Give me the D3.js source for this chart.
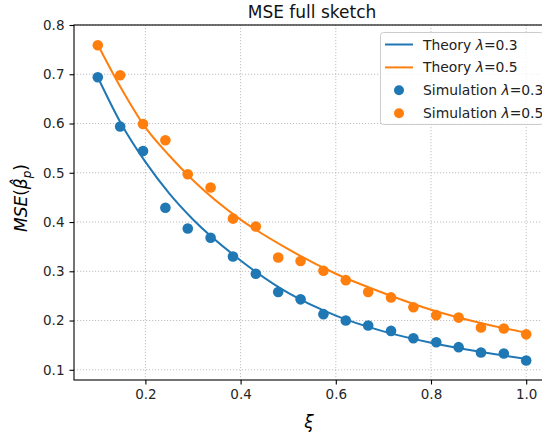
<!doctype html>
<html>
  <head>
    <script src="https://cdnjs.cloudflare.com/ajax/libs/d3/7.8.5/d3.min.js"></script>
    <style>
      body { margin: 0; background: #fff; }
      svg { font-family: "DejaVu Sans", sans-serif; }
      .grid line { stroke: #b0b0b0; stroke-width: 0.8; stroke-dasharray: 1.2 1.8; }
      .axis path, .axis line { stroke: #000; stroke-width: 1.1; }
      path.theory { fill: none; stroke-width: 2; }
    </style>
  </head>
  <body>
    <svg id="chart" width="542" height="435"></svg>
    <script>
      // simulation points
      var simXi = [0.1, 0.147, 0.195, 0.242, 0.289, 0.337, 0.384, 0.432, 0.479, 0.526,
                   0.574, 0.621, 0.668, 0.716, 0.763, 0.811, 0.858, 0.905, 0.953, 1.0];
      var simLam03 = [0.694, 0.594, 0.544, 0.429, 0.387, 0.368, 0.330, 0.295, 0.258, 0.243,
                      0.213, 0.200, 0.190, 0.179, 0.164, 0.156, 0.146, 0.135, 0.133, 0.119];
      var simLam05 = [0.759, 0.698, 0.599, 0.566, 0.497, 0.470, 0.407, 0.391, 0.328, 0.321,
                      0.301, 0.282, 0.258, 0.247, 0.227, 0.211, 0.206, 0.186, 0.184, 0.172];

      // theory curves
      var theoryXi = [0.1, 0.15, 0.2, 0.25, 0.3, 0.4, 0.5, 0.6, 0.7, 0.8, 0.9, 1.0];
      var theoryLam03 = [0.694, 0.598, 0.522, 0.458, 0.405, 0.322, 0.256, 0.210, 0.178, 0.155, 0.137, 0.122];
      var theoryLam05 = [0.760, 0.670, 0.592, 0.535, 0.485, 0.405, 0.345, 0.295, 0.256, 0.222, 0.196, 0.175];

      var xTicks = [0.2, 0.4, 0.6, 0.8, 1.0];
      var yTicks = [0.1, 0.2, 0.3, 0.4, 0.5, 0.6, 0.7, 0.8];

      var blue = "#1f77b4", orange = "#ff7f0e";

      var plotL = 74, plotR = 550, plotT = 25, plotB = 380;
      var svg = d3.select("#chart");

      var x = d3.scaleLinear().domain([0.05, 1.05]).range([plotL, plotR]);
      var y = d3.scaleLinear().domain([0.0793, 0.8]).range([plotB, plotT]);

      // grid
      var grid = svg.append("g").attr("class", "grid");
      grid.selectAll("line.gx").data(xTicks).enter().append("line")
          .attr("x1", d => x(d)).attr("x2", d => x(d))
          .attr("y1", plotT).attr("y2", plotB);
      grid.selectAll("line.gy").data(yTicks).enter().append("line")
          .attr("x1", plotL).attr("x2", plotR)
          .attr("y1", d => y(d)).attr("y2", d => y(d));

      var line = d3.line()
          .x(d => x(d[0]))
          .y(d => y(d[1]))
          .curve(d3.curveMonotoneX);

      svg.append("path")
          .datum(d3.zip(theoryXi, theoryLam03))
          .attr("class", "theory")
          .attr("stroke", blue)
          .attr("d", line);
      svg.append("path")
          .datum(d3.zip(theoryXi, theoryLam05))
          .attr("class", "theory")
          .attr("stroke", orange)
          .attr("d", line);

      svg.append("g").selectAll("circle")
        .data(d3.zip(simXi, simLam03))
        .enter().append("circle")
          .attr("cx", d => x(d[0]))
          .attr("cy", d => y(d[1]))
          .attr("r", 5.3)
          .attr("fill", blue);
      svg.append("g").selectAll("circle")
        .data(d3.zip(simXi, simLam05))
        .enter().append("circle")
          .attr("cx", d => x(d[0]))
          .attr("cy", d => y(d[1]))
          .attr("r", 5.3)
          .attr("fill", orange);

      // axes
      var gx = svg.append("g")
          .attr("class", "axis")
          .attr("transform", "translate(0," + plotB + ")")
          .call(d3.axisBottom(x).tickValues(xTicks).tickFormat(d3.format(".1f"))
                .tickSizeInner(4.5).tickSizeOuter(0).tickPadding(5));
      var gy = svg.append("g")
          .attr("class", "axis")
          .attr("transform", "translate(" + plotL + ",0)")
          .call(d3.axisLeft(y).tickValues(yTicks).tickFormat(d3.format(".1f"))
                .tickSizeInner(4.5).tickSizeOuter(0).tickPadding(5));
      svg.selectAll(".axis")
          .attr("font-family", "DejaVu Sans, sans-serif")
          .attr("font-size", 13.5);
      svg.selectAll(".axis text").attr("fill", "#262626");
      svg.selectAll(".axis .domain").remove();
      // frame
      svg.append("rect")
          .attr("x", plotL).attr("y", plotT)
          .attr("width", plotR - plotL).attr("height", plotB - plotT)
          .attr("fill", "none").attr("stroke", "#000").attr("stroke-width", 1.1);

      // title and labels
      svg.append("text")
          .attr("x", (plotL + plotR) / 2).attr("y", 18)
          .attr("text-anchor", "middle")
          .attr("font-size", "17px")
          .attr("fill", "#111")
          .text("MSE full sketch");

      svg.append("text")
          .attr("x", 309).attr("y", 428)
          .attr("text-anchor", "middle")
          .attr("font-size", "17px")
          .attr("font-style", "italic")
          .text("ξ");

      var yl = svg.append("text")
          .attr("transform", "translate(27,198) rotate(-90)")
          .attr("text-anchor", "middle")
          .attr("font-size", "17px");
      yl.append("tspan").attr("font-style", "italic").text("MSE");
      yl.append("tspan").text("(");
      yl.append("tspan").attr("font-style", "italic").text("β\u0302");
      yl.append("tspan").attr("font-style", "italic").attr("font-size", "12px")
          .attr("dy", 4).text("p");
      yl.append("tspan").attr("dy", -4).text(")");

      // legend
      var legendItems = [
        {kind: "line", color: blue, label: "Theory ", lam: "0.3"},
        {kind: "line", color: orange, label: "Theory ", lam: "0.5"},
        {kind: "dot", color: blue, label: "Simulation ", lam: "0.3"},
        {kind: "dot", color: orange, label: "Simulation ", lam: "0.5"}
      ];
      var lg = svg.append("g");
      lg.append("rect")
          .attr("x", 380.5).attr("y", 32.5)
          .attr("width", 163).attr("height", 92)
          .attr("rx", 3)
          .attr("fill", "#fff").attr("fill-opacity", 0.8)
          .attr("stroke", "#cccccc");
      var rows = lg.selectAll("g.row").data(legendItems).enter().append("g")
          .attr("transform", (d, i) => "translate(0," + (44.5 + i * 22.9) + ")");
      rows.filter(d => d.kind === "line").append("line")
          .attr("x1", 385).attr("x2", 413)
          .attr("stroke", d => d.color).attr("stroke-width", 2);
      rows.filter(d => d.kind === "dot").append("circle")
          .attr("cx", 399).attr("r", 5)
          .attr("fill", d => d.color);
      var lt = rows.append("text")
          .attr("x", 423).attr("y", 5)
          .attr("font-size", "13.9px")
          .attr("fill", "#222");
      lt.append("tspan").text(d => d.label);
      lt.append("tspan").attr("font-style", "italic").text("λ");
      lt.append("tspan").text(d => "=" + d.lam);
    </script>
  </body>
</html>
